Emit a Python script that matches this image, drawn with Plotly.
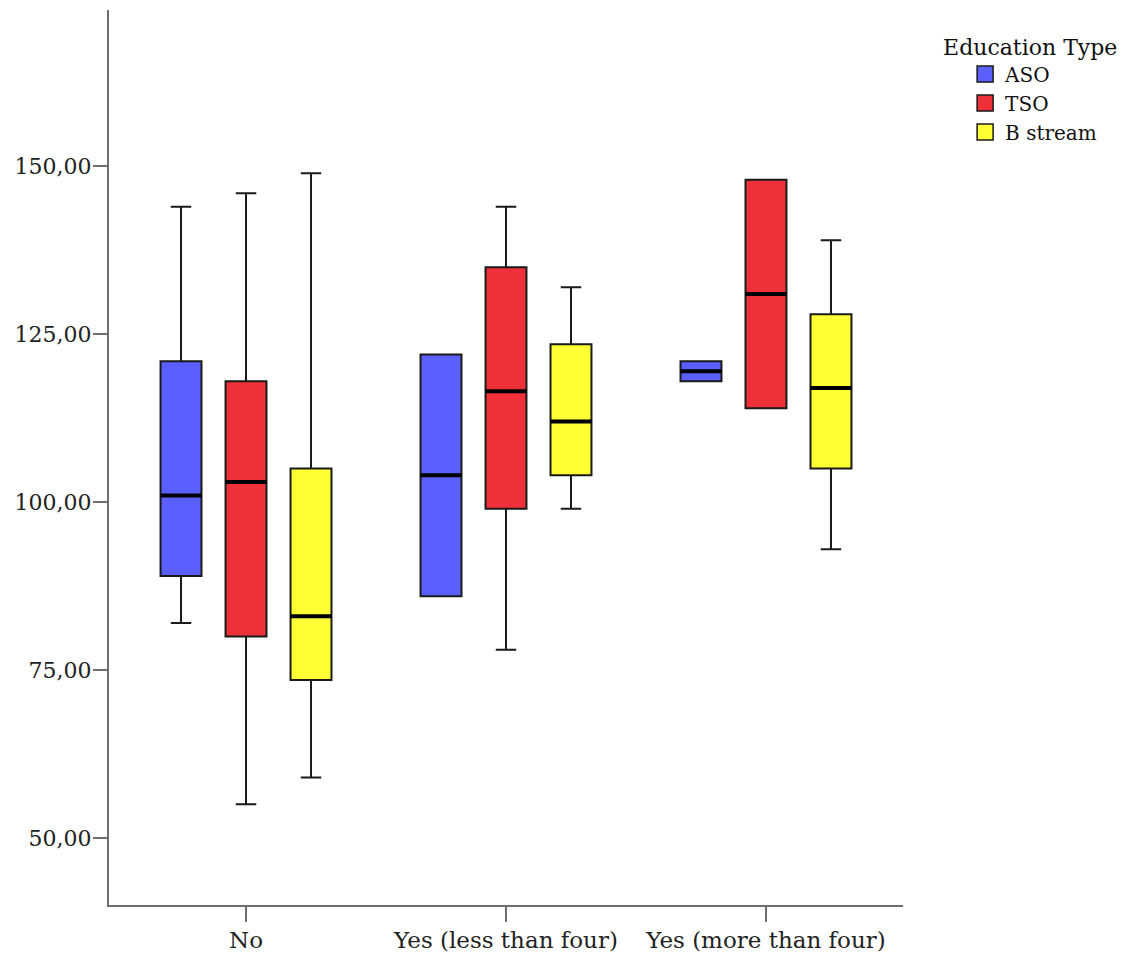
import plotly.graph_objects as go

categories = ["No", "Yes (less than four)", "Yes (more than four)"]
series_names = ["ASO", "TSO", "B stream"]
series_colors = ["#5B5FFF", "#EE3039", "#FFFF33"]

aso_lower = [82, 86, 118]
aso_q1 = [89, 86, 118]
aso_median = [101, 104, 119.5]
aso_q3 = [121, 122, 121]
aso_upper = [144, 122, 121]

tso_lower = [55, 78, 114]
tso_q1 = [80, 99, 114]
tso_median = [103, 116.5, 131]
tso_q3 = [118, 135, 148]
tso_upper = [146, 144, 148]

b_lower = [59, 99, 93]
b_q1 = [73.5, 104, 105]
b_median = [83, 112, 117]
b_q3 = [105, 123.5, 128]
b_upper = [149, 132, 139]

y_tick_values = [50, 75, 100, 125, 150]

stats = [
    (aso_lower, aso_q1, aso_median, aso_q3, aso_upper),
    (tso_lower, tso_q1, tso_median, tso_q3, tso_upper),
    (b_lower, b_q1, b_median, b_q3, b_upper),
]

FONT = "DejaVu Serif"
OUTLINE = "#1a1a1a"

fig = go.Figure()

for name, color, (lo, q1, med, q3, hi) in zip(series_names, series_colors, stats):
    fig.add_trace(go.Box(
        name=name,
        x=categories,
        lowerfence=lo, q1=q1, median=med, q3=q3, upperfence=hi,
        fillcolor=color,
        line=dict(color=OUTLINE, width=2),
        whiskerwidth=0.5,
        boxpoints=False,
        offsetgroup=name,
        alignmentgroup="g",
        legendgroup=name,
        showlegend=False,
    ))
    # thicker median line drawn as a zero-height box at the median value
    fig.add_trace(go.Box(
        name=name + " median",
        x=categories,
        lowerfence=med, q1=med, median=med, q3=med, upperfence=med,
        fillcolor="rgba(0,0,0,0)",
        line=dict(color="#000000", width=4),
        whiskerwidth=0,
        boxpoints=False,
        offsetgroup=name,
        alignmentgroup="g",
        legendgroup=name,
        showlegend=False,
        hoverinfo="skip",
    ))
    # legend entry
    fig.add_trace(go.Scatter(
        x=[None], y=[None],
        mode="markers",
        name=name,
        legendgroup=name,
        marker=dict(symbol="square", size=16, color=color,
                    line=dict(color=OUTLINE, width=1.5)),
    ))

axis_color = "#6e6e6e"

fig.update_layout(
    width=1136,
    height=956,
    margin=dict(l=109, r=233, t=10, b=51),
    paper_bgcolor="white",
    plot_bgcolor="white",
    boxmode="group",
    boxgap=0.25,
    boxgroupgap=0.37,
    separators=",.",
    font=dict(family=FONT, color="#222222"),
    xaxis=dict(
        type="category",
        categoryorder="array",
        categoryarray=categories,
        range=[-0.527, 2.527],
        automargin=False,
        showline=True, linecolor=axis_color, linewidth=2,
        ticks="outside", ticklen=15, tickwidth=1.5, tickcolor=axis_color,
        ticklabelstandoff=-2,
        showgrid=False, zeroline=False,
        tickfont=dict(family=FONT, size=23, color="#222222"),
    ),
    yaxis=dict(
        range=[40.0, 173.3],
        tickvals=y_tick_values,
        tickformat=".2f",
        automargin=False,
        showline=True, linecolor=axis_color, linewidth=2,
        ticks="outside", ticklen=14, tickwidth=1.5, tickcolor=axis_color,
        ticklabelstandoff=-3,
        showgrid=False, zeroline=False,
        tickfont=dict(family=FONT, size=22, color="#222222"),
    ),
    legend=dict(
        title=dict(text="Education Type", font=dict(family=FONT, size=22, color="#111111")),
        font=dict(family=FONT, size=20, color="#111111"),
        x=1.048, xanchor="left",
        y=0.9821, yanchor="top",
        tracegroupgap=0,
        indentation=24,
        bgcolor="rgba(0,0,0,0)",
    ),
)

# remove the default 8px page margin so the figure fills the window exactly
fig.write_html(
    "out.html",
    config={"displayModeBar": False},
    post_script="document.body.style.margin='0';",
)
